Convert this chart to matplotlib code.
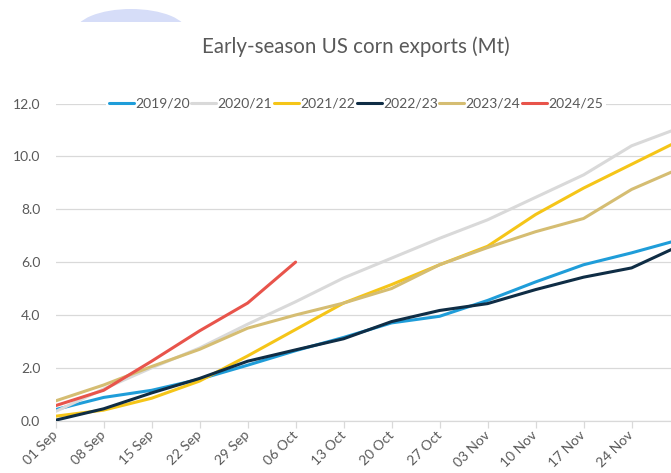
import matplotlib
matplotlib.use("Agg")
import matplotlib.pyplot as plt
from matplotlib.patches import Ellipse, Rectangle

plt.rcParams['font.family'] = ['Lato', 'DejaVu Sans']

weeks = ["01 Sep", "08 Sep", "15 Sep", "22 Sep", "29 Sep", "06 Oct", "13 Oct",
         "20 Oct", "27 Oct", "03 Nov", "10 Nov", "17 Nov", "24 Nov", "01 Dec"]

s2019 = [0.42, 0.88, 1.15, 1.57, 2.10, 2.65, 3.15, 3.70, 3.95, 4.55, 5.25, 5.90, 6.35, 6.85]
s2020 = [0.35, 1.20, 2.00, 2.75, 3.65, 4.50, 5.40, 6.15, 6.90, 7.60, 8.45, 9.30, 10.40, 11.08]
s2021 = [0.17, 0.40, 0.85, 1.50, 2.45, 3.45, 4.45, 5.15, 5.90, 6.60, 7.80, 8.80, 9.70, 10.60]
s2022 = [0.02, 0.45, 1.05, 1.60, 2.25, 2.68, 3.10, 3.75, 4.17, 4.43, 4.96, 5.43, 5.78, 6.62]
s2023 = [0.75, 1.35, 2.05, 2.70, 3.50, 4.00, 4.45, 5.00, 5.90, 6.55, 7.15, 7.65, 8.75, 9.54]
s2024 = [0.57, 1.15, 2.25, 3.40, 4.45, 6.00]

series = [
    ("2019/20", s2019, "#1f9dd9"),
    ("2020/21", s2020, "#d9d9d9"),
    ("2021/22", s2021, "#f5c518"),
    ("2022/23", s2022, "#0f2d45"),
    ("2023/24", s2023, "#d5bd72"),
    ("2024/25", s2024, "#e8544b"),
]

W, H = 671, 473
fig = plt.figure(figsize=(W / 100, H / 100), dpi=100)

# decorative ellipse at top-left
ell = Ellipse((131 / W, 1 - 32 / H), 112 / W, 46 / H, transform=fig.transFigure,
              facecolor="#d6ddf8", edgecolor="none")
clip = Rectangle((0, 1 - 22 / H), 1, 22 / H, transform=fig.transFigure)
fig.patches.append(ell)
ell.set_clip_path(clip)

left = 55.6 / W
bottom = (H - 420.7) / H
top = (H - 103.5) / H
ax = fig.add_axes([left, bottom, 1 - left, top - bottom])

for name, vals, col in series:
    ax.plot(range(len(vals)), vals, color=col, lw=2.2, label=name,
            solid_capstyle="round", solid_joinstyle="round", zorder=3)

xmax = (W - 55.6) / 48.0
ax.set_ylim(0, 12)
ax.set_xlim(0, xmax)
ax.set_yticks([0, 2, 4, 6, 8, 10, 12])
ax.set_yticklabels([f"{v:.1f}" for v in [0, 2, 4, 6, 8, 10, 12]])
vis = [i for i in range(len(weeks)) if i <= xmax]
ax.set_xticks(vis)
ax.set_xticklabels([weeks[i] for i in vis], rotation=45, ha="right", va="center",
                   rotation_mode="anchor")

ax.grid(axis="y", color="#d9d9d9", lw=0.9, zorder=0)
ax.set_axisbelow(True)
for s in ["top", "right", "left"]:
    ax.spines[s].set_visible(False)
ax.spines["bottom"].set_color("#d9d9d9")
ax.spines["bottom"].set_linewidth(0.9)
ax.tick_params(axis="y", length=0, pad=11, labelsize=10, labelcolor="#595959")
ax.tick_params(axis="x", length=5, width=0.9, color="#d9d9d9", pad=4,
               labelsize=10, labelcolor="#595959", direction="out")

leg = ax.legend(loc="center", bbox_to_anchor=(0.488, 1.0), ncol=6, frameon=True,
                facecolor="white", edgecolor="none", framealpha=1, fontsize=10,
                handlelength=1.8, handletextpad=0.1, columnspacing=0.1,
                borderpad=0.2, borderaxespad=0)
for t in leg.get_texts():
    t.set_color("#595959")
leg.get_frame().set_linewidth(0)

fig.text(355.5 / W, 1 - 46.5 / H, "Early-season US corn exports (Mt)", ha="center",
         va="center", fontsize=14.8, color="#595959")

fig.savefig("out.png", dpi=100)
